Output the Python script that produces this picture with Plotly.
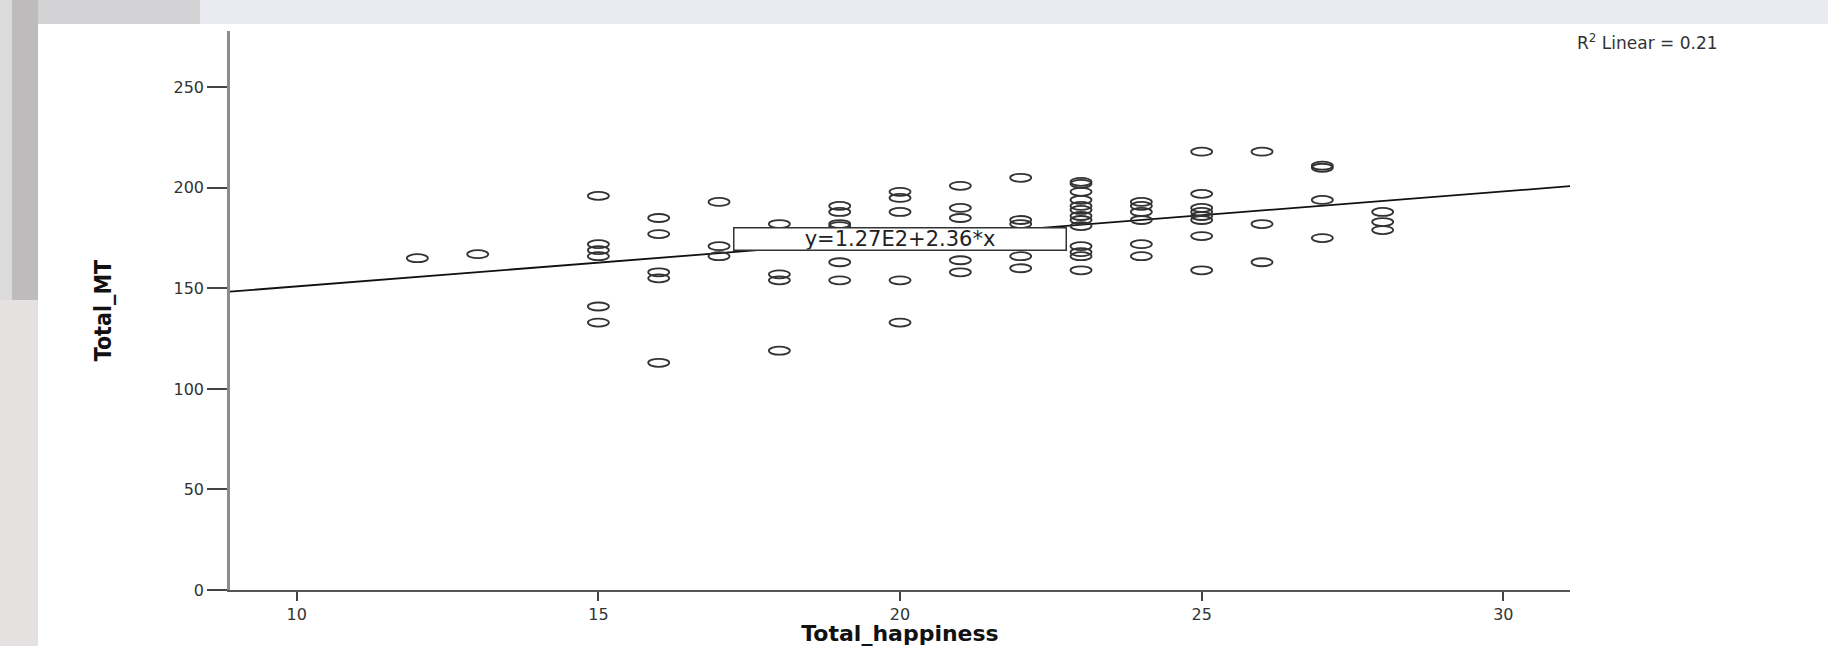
import plotly.graph_objects as go

# ---------------- data ----------------
happiness = [12, 13,
             15, 15, 15, 15, 15, 15,
             16, 16, 16, 16, 16,
             17, 17, 17,
             18, 18, 18, 18,
             19, 19, 19, 19, 19, 19,
             20, 20, 20, 20, 20,
             21, 21, 21, 21, 21,
             22, 22, 22, 22, 22,
             23, 23, 23, 23, 23, 23, 23, 23, 23, 23, 23, 23, 23,
             24, 24, 24, 24, 24, 24,
             25, 25, 25, 25, 25, 25, 25, 25,
             26, 26, 26,
             27, 27, 27, 27,
             28, 28, 28]
total_mt = [165, 167,
            196, 172, 169, 166, 141, 133,
            185, 177, 158, 155, 113,
            193, 171, 166,
            182, 157, 154, 119,
            191, 188, 182, 181, 163, 154,
            198, 195, 188, 154, 133,
            201, 190, 185, 164, 158,
            205, 184, 182, 166, 160,
            203, 202, 198, 194, 191, 189, 186, 184, 181, 171, 168, 166, 159,
            193, 191, 188, 184, 172, 166,
            218, 197, 190, 188, 186, 184, 176, 159,
            218, 182, 163,
            211, 210, 194, 175,
            188, 183, 179]

reg_intercept = 127.4
reg_slope = 2.36
equation_label = "y=1.27E2+2.36*x"
r2_label = "R<sup>2</sup> Linear = 0.21"

x_range = [8.894, 31.105]
y_range = [0, 278]
x_ticks = [10, 15, 20, 25, 30]
y_ticks = [0, 50, 100, 150, 200, 250]

# ---------------- figure geometry ----------------
W, H = 1828, 646
ML, MR, MT, MB = 230, 258, 31, 56
PW, PH = W - ML - MR, H - MT - MB


def px_x(p):
    return (p - ML) / PW


def px_y(p):
    return (H - MB - p) / PH


fig = go.Figure()

# regression line across the full x range
line_x = list(x_range)
line_y = [reg_intercept + reg_slope * v for v in line_x]
fig.add_trace(go.Scatter(x=line_x, y=line_y, mode="lines",
                         line=dict(color="#111111", width=1.8),
                         hoverinfo="skip", showlegend=False))

# data points (hover carrier); visible open ellipses are drawn below as shapes
fig.add_trace(go.Scatter(x=happiness, y=total_mt, mode="markers",
                         marker=dict(size=18, color="rgba(0,0,0,0)"),
                         showlegend=False,
                         hovertemplate="Total_happiness=%{x}<br>Total_MT=%{y}<extra></extra>"))

shapes = []
# background decoration (slide-like frame)
shapes.append(dict(type="rect", xref="paper", yref="paper", layer="below",
                   x0=px_x(38), x1=px_x(W), y0=px_y(0), y1=px_y(24),
                   fillcolor="#e9ebf0", line=dict(width=0)))
shapes.append(dict(type="rect", xref="paper", yref="paper", layer="below",
                   x0=px_x(38), x1=px_x(200), y0=px_y(0), y1=px_y(24),
                   fillcolor="#d3d3d6", line=dict(width=0)))
shapes.append(dict(type="rect", xref="paper", yref="paper", layer="below",
                   x0=px_x(0), x1=px_x(38), y0=px_y(0), y1=px_y(H),
                   fillcolor="#e5e1e1", line=dict(width=0)))
shapes.append(dict(type="rect", xref="paper", yref="paper", layer="below",
                   x0=px_x(12), x1=px_x(38), y0=px_y(0), y1=px_y(300),
                   fillcolor="#bdbbbb", line=dict(width=0)))
shapes.append(dict(type="rect", xref="paper", yref="paper", layer="below",
                   x0=px_x(0), x1=px_x(12), y0=px_y(0), y1=px_y(300),
                   fillcolor="#dcdbdb", line=dict(width=0)))

# open elliptical markers anchored on each data value
for xv, yv in zip(happiness, total_mt):
    shapes.append(dict(type="circle", xref="x", yref="y",
                       xsizemode="pixel", ysizemode="pixel",
                       xanchor=xv, yanchor=yv,
                       x0=-10.5, x1=10.5, y0=-4, y1=4,
                       line=dict(color="#333333", width=1.8),
                       fillcolor="rgba(0,0,0,0)", layer="above"))

annotations = [
    dict(text=equation_label, xref="x", yref="y", x=20.0, y=174.5,
         showarrow=False, font=dict(family="DejaVu Sans", size=21, color="#222222"),
         bgcolor="white", bordercolor="#333333", borderwidth=1.5, borderpad=0,
         width=331, height=21, align="center"),
    dict(text=r2_label, xref="paper", yref="paper", x=px_x(1575), y=px_y(42),
         xanchor="left", yanchor="middle", showarrow=False,
         font=dict(family="DejaVu Sans", size=17, color="#333333")),
]

fig.update_layout(
    width=W, height=H,
    margin=dict(l=ML, r=MR, t=MT, b=MB, autoexpand=False),
    paper_bgcolor="white", plot_bgcolor="white",
    showlegend=False,
    shapes=shapes, annotations=annotations,
    font=dict(family="DejaVu Sans", color="#333333"),
)

fig.update_xaxes(range=x_range, tickvals=x_ticks, ticktext=[str(v) for v in x_ticks],
                 showgrid=False, zeroline=False,
                 showline=True, linecolor="#555555", linewidth=1.5,
                 ticks="outside", ticklen=9, tickwidth=2, tickcolor="#444444",
                 tickfont=dict(family="DejaVu Sans", size=16, color="#333333"),
                 title=dict(text="Total_happiness", standoff=1,
                            font=dict(family="DejaVu Sans", size=22, color="#111111",
                                      weight="bold")),
                 automargin=False)
fig.update_yaxes(range=y_range, tickvals=y_ticks, ticktext=[str(v) for v in y_ticks],
                 showgrid=False, zeroline=False,
                 showline=True, linecolor="#8c8c8c", linewidth=2.5,
                 ticks="outside", ticklen=20, tickwidth=1.5, tickcolor="#444444",
                 tickfont=dict(family="DejaVu Sans", size=16, color="#333333"),
                 title=dict(text="Total_MT", standoff=56,
                            font=dict(family="Liberation Sans Narrow, DejaVu Sans Condensed, sans-serif",
                                      size=23, color="#111111", weight="bold")),
                 automargin=False)

fig.write_html("out.html",
               config={"displayModeBar": False},
               post_script="document.body.style.margin='0';document.body.style.overflow='hidden';")
